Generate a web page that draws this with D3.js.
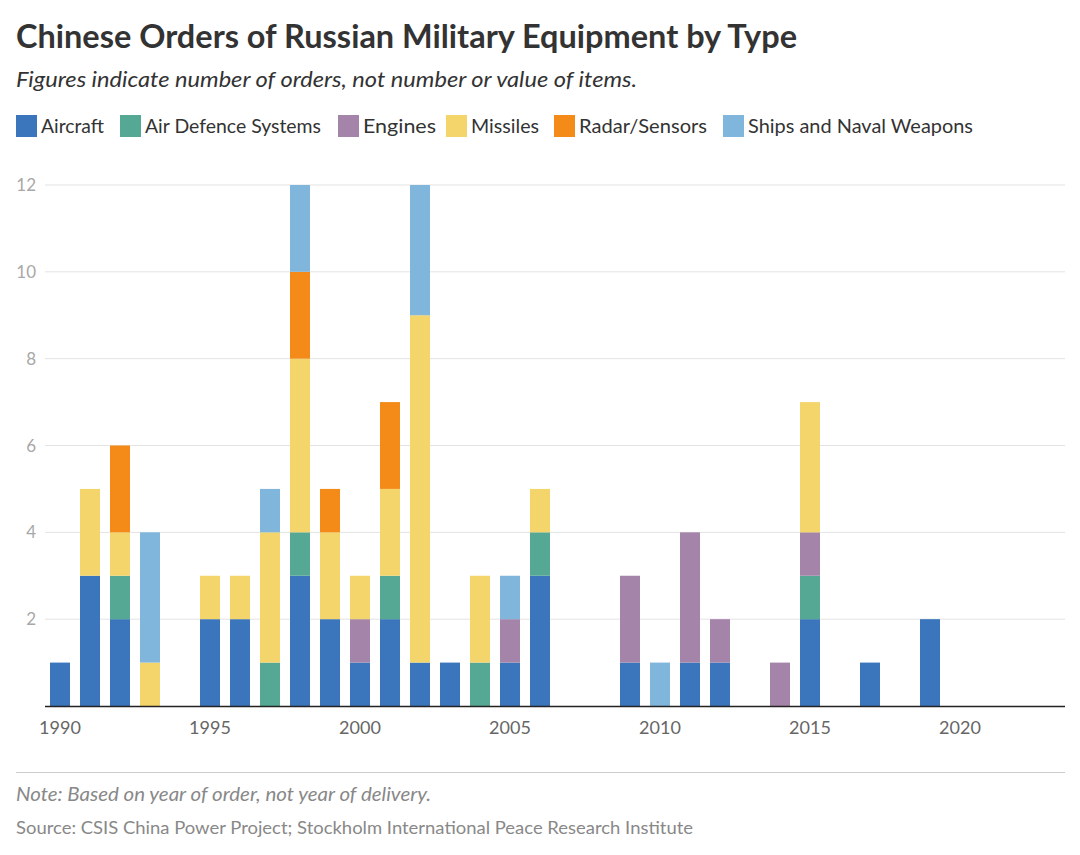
<!DOCTYPE html>
<html><head><meta charset="utf-8">
<script src="https://cdn.jsdelivr.net/npm/d3@7"></script>
<style>
body{margin:0;background:#fff;}
svg{display:block;font-family:Lato,"Noto Sans",sans-serif;}
</style></head>
<body><svg id="c" width="1080" height="855"></svg>
<script>
const years = [1990,1991,1992,1993,1994,1995,1996,1997,1998,1999,2000,2001,2002,2003,2004,2005,2006,2007,2008,2009,2010,2011,2012,2013,2014,2015,2016,2017,2018,2019];
const aircraft    = [1,3,2,0,0,2,2,0,3,2,1,2,1,1,0,1,3,0,0,1,0,1,1,0,0,2,0,1,0,2];
const airDefence  = [0,0,1,0,0,0,0,1,1,0,0,1,0,0,1,0,1,0,0,0,0,0,0,0,0,1,0,0,0,0];
const engines     = [0,0,0,0,0,0,0,0,0,0,1,0,0,0,0,1,0,0,0,2,0,3,1,0,1,1,0,0,0,0];
const missiles    = [0,2,1,1,0,1,1,3,4,2,1,2,8,0,2,0,1,0,0,0,0,0,0,0,0,3,0,0,0,0];
const radar       = [0,0,2,0,0,0,0,0,2,1,0,2,0,0,0,0,0,0,0,0,0,0,0,0,0,0,0,0,0,0];
const ships       = [0,0,0,3,0,0,0,1,2,0,0,0,3,0,0,1,0,0,0,0,1,0,0,0,0,0,0,0,0,0];
const seriesNames = ["Aircraft","Air Defence Systems","Engines","Missiles","Radar/Sensors","Ships and Naval Weapons"];
const seriesColors = ["#3b76bc","#55a893","#a485a9","#f4d56c","#f48a18","#80b6db"];
const yTicks = [2,4,6,8,10,12];
const xTicks = [1990,1995,2000,2005,2010,2015,2020];

const seriesValues = [aircraft,airDefence,engines,missiles,radar,ships];
const rows = years.map((y,i)=>{const r={year:y}; seriesNames.forEach((n,k)=>r[n]=seriesValues[k][i]); return r;});
const stacked = d3.stack().keys(seriesNames)(rows);

const svg = d3.select("#c");
const x = d3.scaleLinear().domain([1989.5,2023.5]).range([45,1065]);
const y = d3.scaleLinear().domain([0,12]).range([706,185]);
const barW = 20;

function fit(sel, w){ const n=sel.node(); const l=n.getComputedTextLength(); if(l>0){ sel.attr("textLength",w).attr("lengthAdjust","spacingAndGlyphs"); } return sel; }

// title
fit(svg.append("text").attr("x",16).attr("y",48).attr("font-size",32).attr("font-weight",700).attr("fill","#333")
  .text("Chinese Orders of Russian Military Equipment by Type"),781);
fit(svg.append("text").attr("x",16).attr("y",87).attr("font-size",22).attr("font-style","italic").attr("fill","#333")
  .text("Figures indicate number of orders, not number or value of items."),621);

// legend
const legX = [16,120,338,446,554,723];
const legW = [63,176,73,68,128,225];
seriesNames.forEach((n,i)=>{
  svg.append("rect").attr("x",legX[i]).attr("y",115).attr("width",21).attr("height",22).attr("fill",seriesColors[i]);
  fit(svg.append("text").attr("x",legX[i]+25).attr("y",133).attr("font-size",20).attr("fill","#333").text(n),legW[i]);
});

// grid
const g = svg.append("g");
g.selectAll("line.grid").data(yTicks).join("line").attr("class","grid")
  .attr("x1",45).attr("x2",1065).attr("y1",d=>y(d)).attr("y2",d=>y(d)).attr("stroke","#e3e3e3").attr("stroke-width",1);
g.selectAll("text.yl").data(yTicks).join("text").attr("class","yl")
  .attr("x",36).attr("y",d=>y(d)+6).attr("text-anchor","end").attr("font-size",17).attr("fill","#a8a8a8").text(d=>d);

// bars
g.selectAll("g.s").data(stacked).join("g").attr("class","s").attr("fill",(d,i)=>seriesColors[i])
  .selectAll("rect").data(d=>d.filter(p=>p[1]>p[0])).join("rect")
  .attr("x",d=>x(d.data.year)-barW/2).attr("width",barW)
  .attr("y",d=>y(d[1])).attr("height",d=>y(d[0])-y(d[1]));

// x axis
g.append("line").attr("x1",45).attr("x2",1065).attr("y1",706.5).attr("y2",706.5).attr("stroke","#222").attr("stroke-width",1.6);
g.selectAll("text.xl").data(xTicks).join("text").attr("class","xl")
  .attr("x",d=>x(d)).attr("y",734).attr("text-anchor","middle").attr("font-size",18).attr("fill","#666").text(d=>d);

// footer
svg.append("line").attr("x1",16).attr("x2",1065).attr("y1",772.5).attr("y2",772.5).attr("stroke","#ccc").attr("stroke-width",1.2);
fit(svg.append("text").attr("x",16).attr("y",801).attr("font-size",19).attr("font-style","italic").attr("fill","#888")
  .text("Note: Based on year of order, not year of delivery."),415);
fit(svg.append("text").attr("x",16).attr("y",834).attr("font-size",18).attr("fill","#888")
  .text("Source: CSIS China Power Project; Stockholm International Peace Research Institute"),677);
</script></body></html>
